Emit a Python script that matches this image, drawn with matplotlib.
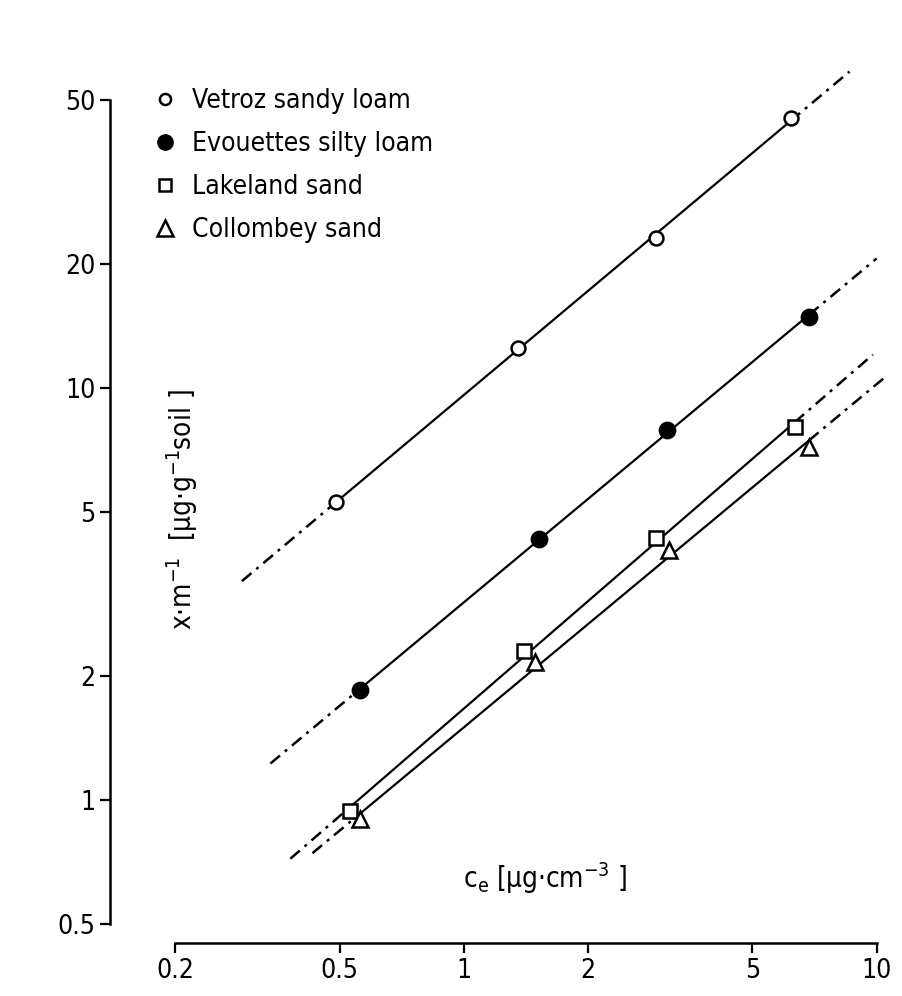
import numpy as np
import matplotlib.pyplot as plt
from matplotlib.lines import Line2D

# Freundlich isotherms, values
vetroz_c = [0.49, 1.35, 2.93, 6.19]
vetroz_x = [5.3, 12.5, 23.1, 45.2]
evouettes_c = [0.56, 1.52, 3.11, 6.86]
evouettes_x = [1.85, 4.30, 7.9, 14.9]
lakeland_c = [0.53, 1.40, 2.93, 6.33]
lakeland_x = [0.94, 2.30, 4.32, 8.06]
collombey_c = [0.56, 1.49, 3.14, 6.86]
collombey_x = [0.90, 2.16, 4.04, 7.20]

# how far the dash-dot extrapolation runs on each side (c_e)
extend_lo = [0.29, 0.34, 0.38, 0.43]
extend_hi = [8.6, 10.0, 9.8, 10.5]

labels = ["Vetroz sandy loam", "Evouettes silty loam", "Lakeland sand", "Collombey sand"]

x_ticks = [0.2, 0.5, 1, 2, 5, 10]
x_ticklabels = ["0.2", "0.5", "1", "2", "5", "10"]
y_ticks = [0.5, 1, 2, 5, 10, 20, 50]
y_ticklabels = ["0.5", "1", "2", "5", "10", "20", "50"]

plt.rcParams["font.stretch"] = "condensed"

series = [(vetroz_c, vetroz_x), (evouettes_c, evouettes_x),
          (lakeland_c, lakeland_x), (collombey_c, collombey_x)]
markers = [
    dict(marker="o", ms=10, mfc="white", mec="black", mew=1.8),
    dict(marker="o", ms=11, mfc="black", mec="black", mew=1.8),
    dict(marker="s", ms=10, mfc="white", mec="black", mew=1.8),
    dict(marker="^", ms=12, mfc="white", mec="black", mew=1.8),
]
dashdot = (0, (5, 2.5, 1.2, 2.5))

fig = plt.figure(figsize=(9.02, 9.96), dpi=100)
ax = fig.add_axes([0.122, 0.053, 0.87, 0.947])
ax.set_xscale("log")
ax.set_yscale("log")
ax.set_xlim(0.139, 11.07)
ax.set_ylim(0.45, 87.5)

for i, (c, x) in enumerate(series):
    slope, icpt = np.polyfit(np.log10(c), np.log10(x), 1)
    fit = lambda v: 10 ** (icpt + slope * np.log10(np.array(v)))
    ax.plot([c[0], c[-1]], fit([c[0], c[-1]]), color="black", lw=1.6, zorder=2)
    ax.plot([extend_lo[i], c[0]], fit([extend_lo[i], c[0]]), color="black",
            lw=1.8, ls=dashdot, zorder=2)
    ax.plot([c[-1], extend_hi[i]], fit([c[-1], extend_hi[i]]), color="black",
            lw=1.8, ls=dashdot, zorder=2)
    ax.plot(c, x, ls="none", zorder=3, **markers[i])

ax.spines["top"].set_visible(False)
ax.spines["right"].set_visible(False)
ax.spines["left"].set_bounds(0.5, 50)
ax.spines["bottom"].set_bounds(0.2, 10)
ax.spines["left"].set_linewidth(1.8)
ax.spines["bottom"].set_linewidth(1.8)

ax.set_xticks(x_ticks, x_ticklabels)
ax.set_yticks(y_ticks, y_ticklabels)
ax.minorticks_off()
ax.tick_params(length=7, width=1.6, labelsize=19, direction="out")

ax.set_xlabel(r"c$_\mathregular{e}$ [µg·cm$^{-3}$ ]", fontsize=20)
ax.xaxis.set_label_coords(0.554, 0.05)
ax.xaxis.label.set_va("bottom")
ax.set_ylabel(r"x·m$^{-1}$  [µg·g$^{-1}$soil ]", fontsize=20)
ax.yaxis.set_label_coords(0.115, 0.46)

# legend markers are drawn a bit differently from the plotted points
handles = [
    Line2D([], [], ls="none", marker="o", ms=8, mfc="white", mec="black", mew=1.8),
    Line2D([], [], ls="none", marker="o", ms=11, mfc="black", mec="black"),
    Line2D([], [], ls="none", marker="s", ms=9, mfc="white", mec="black", mew=1.8),
    Line2D([], [], ls="none", marker="^", ms=12, mfc="white", mec="black", mew=1.8),
]
ax.legend(handles, labels, loc="upper left", bbox_to_anchor=(0.04, 0.918),
          frameon=False, fontsize=19, handlelength=1.0, handletextpad=0.5,
          labelspacing=0.65, borderaxespad=0)

fig.savefig("out.png", dpi=100)
